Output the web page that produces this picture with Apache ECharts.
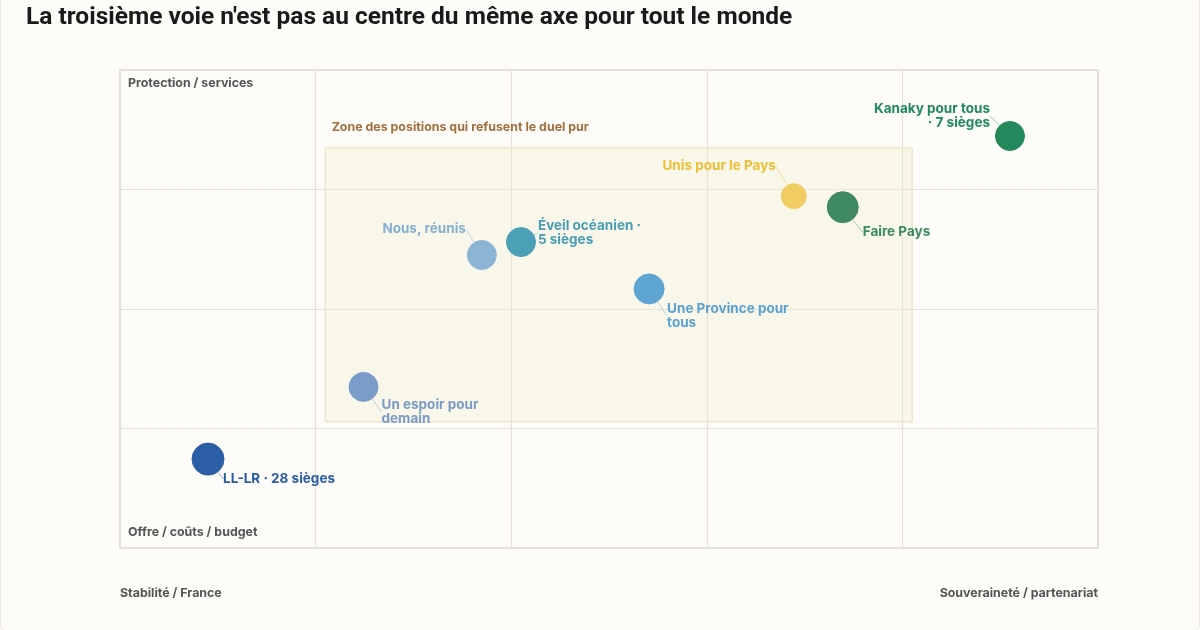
<!DOCTYPE html>
<html>
<head>
  <meta charset="utf-8">
  <title>La troisième voie</title>
  <script src="https://cdn.jsdelivr.net/npm/echarts@6/dist/echarts.min.js"></script>
  <style>
    html, body { margin: 0; padding: 0; background: #fdfcf8; }
    #wrap { width: 1198px; height: 640px; position: absolute; left: 0; top: -10px;
      border: 1px solid #ebe8e0; border-radius: 8px; }
    #chart { width: 1200px; height: 630px; position: absolute; left: 0; top: 0; }
  </style>
</head>
<body>
<div id="wrap"></div>
<div id="chart"></div>
<script>
  // partis : position sur les deux axes (0-100)
  var names = ['LL-LR', 'Un espoir pour demain', 'Nous, réunis', 'Éveil océanien',
    'Une Province pour tous', 'Unis pour le Pays', 'Faire Pays', 'Kanaky pour tous'];
  var labels = ['LL-LR · 28 sièges', 'Un espoir pour\ndemain', 'Nous, réunis', 'Éveil océanien ·\n5 sièges',
    'Une Province pour\ntous', 'Unis pour le Pays', 'Faire Pays', 'Kanaky pour tous\n· 7 sièges'];
  var xVals = [9.0, 24.9, 37.0, 41.0, 54.1, 68.9, 73.9, 91.0];
  var yVals = [18.6, 33.7, 61.3, 64.0, 54.2, 73.6, 71.3, 86.2];
  var zoneX = [21, 81];
  var zoneY = [26.4, 83.7];

  // styles
  var colors = ['#2c5ea6', '#7b9cc8', '#8cb4d5', '#4b9fb7', '#5ea5d2', '#f1cc62', '#3f8a62', '#24895a'];
  var textColors = ['#2a5ca6', '#7a9bc6', '#86b0d2', '#4a9db5', '#5aa2d0', '#ebbf36', '#3c8a5f', '#22895a'];
  var sizes = [32, 29, 29, 29, 30, 25, 31, 29];
  // décalage de l'étiquette par rapport au point
  var offs = [[15, 20, 'left'], [18, 25, 'left'], [-16, -26, 'right'], [17, -9, 'left'],
    [18, 27, 'left'], [-18, -30, 'right'], [20, 25, 'left'], [-20, -20, 'right']];

  var labelFont = 'Inter, Lato, "Noto Sans", sans-serif';

  var chart = echarts.init(document.getElementById('chart'));

  var pts = names.map(function (n, i) {
    return {
      name: n,
      value: [xVals[i], yVals[i]],
      symbolSize: sizes[i],
      itemStyle: { color: colors[i], borderColor: colors[i], borderWidth: 1, opacity: 1 },
      label: { formatter: labels[i], color: textColors[i], align: offs[i][2] },
      labelLine: { lineStyle: { color: textColors[i], opacity: 0.45 } }
    };
  });

  var option = {
    backgroundColor: 'transparent',
    title: {
      text: "La troisième voie n'est pas au centre du même axe pour tout le monde",
      left: 21, top: 0,
      textStyle: { fontFamily: '"Liberation Sans Narrow", "Roboto", sans-serif', fontSize: 24.5,
        fontWeight: 'bold', color: '#1a1a1a' }
    },
    grid: { left: 120, right: 102, top: 70, bottom: 82, show: true,
      borderColor: '#dedad0', borderWidth: 1.5 },
    xAxis: {
      type: 'value', min: 0, max: 100, interval: 20,
      axisLine: { show: false }, axisTick: { show: false }, axisLabel: { show: false },
      splitLine: { lineStyle: { color: '#e3e0d8', width: 1.2 } }
    },
    yAxis: {
      type: 'value', min: 0, max: 100, interval: 25,
      axisLine: { show: false }, axisTick: { show: false }, axisLabel: { show: false },
      splitLine: { lineStyle: { color: '#e3e0d8', width: 1.2 } }
    },
    graphic: [
      { type: 'text', left: 128, top: 77, style: { text: 'Protection / services', fill: '#555',
        font: 'bold 12.4px ' + labelFont } },
      { type: 'text', left: 128, top: 526, style: { text: 'Offre / coûts / budget', fill: '#555',
        font: 'bold 12.4px ' + labelFont } },
      { type: 'text', left: 120, top: 587, style: { text: 'Stabilité / France', fill: '#555',
        font: 'bold 12.4px ' + labelFont } },
      { type: 'text', right: 102, top: 587, style: { text: 'Souveraineté / partenariat', fill: '#555',
        font: 'bold 12.4px ' + labelFont } }
    ],
    series: [{
      type: 'scatter',
      data: pts,
      z: 3,
      label: {
        show: true, position: 'inside', fontFamily: labelFont, fontSize: 13.5, fontWeight: 'bold',
        lineHeight: 14
      },
      labelLine: { show: true, length2: 0, lineStyle: { width: 1 } },
      labelLayout: function (p) {
        var o = offs[p.dataIndex];
        var cx = p.rect.x + p.rect.width / 2;
        var cy = p.rect.y + p.rect.height / 2;
        return { x: cx + o[0], y: cy + o[1], align: o[2], verticalAlign: 'middle' };
      },
      emphasis: { disabled: true },
      markArea: {
        silent: true,
        itemStyle: { color: 'rgba(244,237,205,0.32)', borderColor: '#ece6cc', borderWidth: 1.5,
          borderRadius: 2 },
        label: { show: true, position: 'insideTopLeft', offset: [2, -31],
          formatter: 'Zone des positions qui refusent le duel pur',
          color: '#a26f3e', fontFamily: labelFont, fontSize: 12.4, fontWeight: 'bold' },
        data: [[{ coord: [zoneX[0], zoneY[1]] }, { coord: [zoneX[1], zoneY[0]] }]]
      }
    }]
  };

  chart.setOption(option);
  window.onresize = function () { chart.resize(); };
</script>
</body>
</html>
